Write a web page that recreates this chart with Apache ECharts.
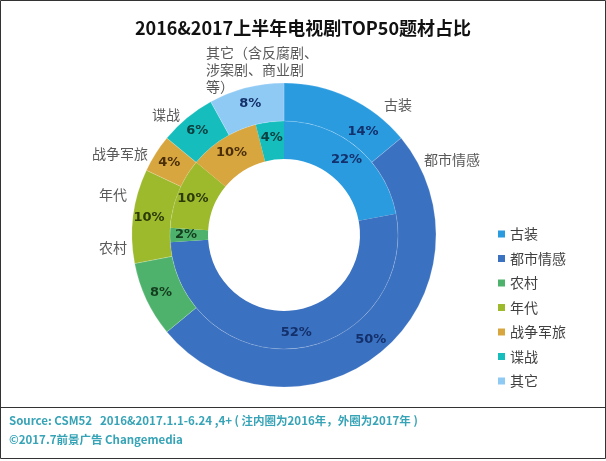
<!DOCTYPE html>
<html><head><meta charset="utf-8">
<script src="https://cdn.jsdelivr.net/npm/echarts@6/dist/echarts.min.js"></script>
<style>html,body{margin:0;padding:0;background:#fff}#c{width:606px;height:461px}</style>
</head><body><div id="c"></div>
<script>
const categories = ['古装','都市情感','农村','年代','战争军旅','谍战','其它'];
const values2016 = [22,52,2,10,10,4,0];
const values2017 = [14,50,8,10,4,6,8];
const outerNames = ['古装','都市情感','农村','年代','战争军旅','谍战','其它（含反腐剧、\n涉案剧、商业剧\n等）'];
const titleText = '2016&2017上半年电视剧TOP50题材占比';
const sourceText = 'Source: CSM52   2016&2017.1.1-6.24 ,4+ ( 注内圈为2016年，外圈为2017年 )';
const creditText = '©2017.7前景广告 Changemedia';

const colors = ['#2b9be0','#3b71c1','#4fb26c','#9cba2c','#d8a63f','#16bdbd','#8fcaf5'];
const labelColors = ['#13306b','#13306b','#143d1f','#2d3a08','#4a2e08','#0c4040','#13306b'];
const namePos = [[398,105,'center','middle'],[452,160,'center','middle'],[113,248,'center','middle'],[113,195,'center','middle'],[120,154,'center','middle'],[166,115,'center','middle'],[206,44,'left','top']];

const center = [284,235];
function mk(vals){
  return categories.map((n,i)=>({name:n,value:vals[i],itemStyle:{color:colors[i]},label:{color:labelColors[i]}}));
}
const chart = echarts.init(document.getElementById('c'));
chart.setOption({
  animation:false,
  title:{text:titleText,left:'center',top:14,textStyle:{fontFamily:'Noto Sans CJK SC',fontSize:18,fontWeight:'bold',color:'#111'}},
  legend:{orient:'vertical',left:493,top:222,itemWidth:7,itemHeight:7,itemGap:10.5,icon:'rect',data:categories,
    textStyle:{fontFamily:'Noto Sans CJK SC',fontSize:14,color:'#404040'}},
  series:[
    {type:'pie',name:'2016',center:center,radius:[76,114],startAngle:90,clockwise:true,
      label:{show:true,position:'inside',fontFamily:'DejaVu Sans',fontWeight:'bold',fontSize:13,
        formatter:p=>p.value>0?p.value+'%':''},
      labelLine:{show:false},itemStyle:{borderWidth:0},
      emphasis:{disabled:true},data:mk(values2016)},
    {type:'pie',name:'2017',center:center,radius:[114,152],startAngle:90,clockwise:true,
      label:{show:true,position:'inside',fontFamily:'DejaVu Sans',fontWeight:'bold',fontSize:13,formatter:'{c}%'},
      labelLayout:function(p){return p.dataIndex===0?{x:363,y:132,align:'center',verticalAlign:'middle'}:{};},
      labelLine:{show:false},itemStyle:{borderColor:'rgba(255,255,255,0.35)',borderWidth:0.5},
      emphasis:{disabled:true},data:mk(values2017)},
    {type:'pie',name:'names',center:center,radius:[114,152],startAngle:90,clockwise:true,silent:true,
      itemStyle:{color:'rgba(0,0,0,0)'},
      label:{show:true,position:'outside',fontFamily:'Noto Sans CJK SC',fontSize:14,color:'#595959',lineHeight:17,
        formatter:p=>outerNames[p.dataIndex]},
      labelLine:{show:false},
      labelLayout:function(p){const q=namePos[p.dataIndex];return {x:q[0],y:q[1],align:q[2],verticalAlign:q[3]};},
      emphasis:{disabled:true},
      data:categories.map((n,i)=>({name:n,value:values2017[i]}))}
  ],
  graphic:[
    {type:'rect',shape:{x:0.5,y:0.5,width:605,height:458},style:{fill:'none',stroke:'#333',lineWidth:1},silent:true},
    {type:'line',shape:{x1:0,y1:407.5,x2:606,y2:407.5},style:{stroke:'#333',lineWidth:1},silent:true},
    {type:'text',left:9,top:415,style:{text:sourceText,font:'bold 11.5px "Noto Sans CJK SC"',fill:'#36a3b6'},silent:true},
    {type:'text',left:9,top:434,style:{text:creditText,font:'bold 11.5px "Noto Sans CJK SC"',fill:'#36a3b6'},silent:true}
  ]
});
</script></body></html>
